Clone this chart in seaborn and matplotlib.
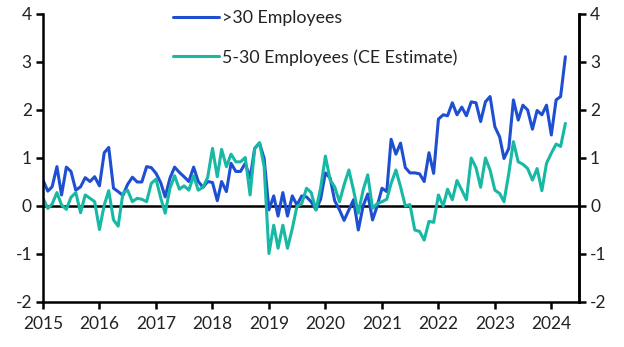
import numpy as np
import pandas as pd
import matplotlib
matplotlib.use("Agg")
import matplotlib.pyplot as plt
import seaborn as sns

months = pd.date_range("2015-01-01", periods=112, freq="MS")

large_firms = [
    0.54, 0.31, 0.40, 0.82, 0.23, 0.81, 0.72, 0.33, 0.40, 0.59, 0.51, 0.61,
    0.42, 1.11, 1.22, 0.37, 0.30, 0.22, 0.45, 0.60, 0.50, 0.50, 0.82, 0.80,
    0.68, 0.48, 0.19, 0.58, 0.81, 0.70, 0.61, 0.51, 0.81, 0.51, 0.39, 0.51,
    0.49, 0.11, 0.51, 0.30, 0.89, 0.72, 0.72, 0.89, 0.58, 1.20, 1.31, 0.99,
    -0.08, 0.21, -0.21, 0.28, -0.21, 0.21, 0.02, 0.21, 0.19, 0.09, -0.08, 0.14,
    0.69, 0.58, 0.11, -0.08, -0.30, -0.08, 0.13, -0.50, 0.00, 0.25, -0.29, 0.00,
    0.37, 0.30, 1.39, 1.08, 1.31, 0.80, 0.69, 0.69, 0.67, 0.51, 1.11, 0.68,
    1.81, 1.90, 1.88, 2.15, 1.90, 2.06, 1.88, 2.17, 2.15, 1.76, 2.17, 2.28,
    1.65, 1.44, 0.99, 1.20, 2.21, 1.79, 2.10, 2.00, 1.60, 1.99, 1.90, 2.10,
    1.48, 2.21, 2.28, 3.11,
]

small_firms = [
    0.16, -0.05, 0.04, 0.28, 0.02, -0.07, 0.18, 0.28, -0.14, 0.23, 0.16, 0.09,
    -0.49, 0.02, 0.32, -0.29, -0.42, 0.27, 0.33, 0.09, 0.16, 0.14, 0.09, 0.47,
    0.56, 0.16, -0.15, 0.37, 0.63, 0.35, 0.42, 0.33, 0.63, 0.33, 0.39, 0.60,
    1.20, 0.61, 1.18, 0.82, 1.08, 0.92, 0.92, 1.01, 0.23, 1.20, 1.32, 0.82,
    -0.99, -0.40, -0.88, -0.40, -0.88, -0.47, -0.01, 0.05, 0.37, 0.28, -0.08, 0.37,
    1.04, 0.54, 0.40, 0.09, 0.44, 0.75, 0.33, -0.15, 0.33, 0.65, -0.05, 0.05,
    0.09, 0.14, 0.47, 0.75, 0.40, 0.00, 0.03, -0.50, -0.53, -0.71, -0.32, -0.34,
    0.23, 0.00, 0.35, 0.13, 0.53, 0.33, 0.13, 1.00, 0.80, 0.39, 1.00, 0.75,
    0.33, 0.26, 0.09, 0.68, 1.34, 0.92, 0.87, 0.78, 0.54, 0.78, 0.32, 0.89,
    1.10, 1.29, 1.24, 1.72,
]

series_names = [">30 Employees", "5-30 Employees (CE Estimate)"]
y_ticks = [-2, -1, 0, 1, 2, 3, 4]
year_ticks = list(range(2015, 2025))

df = pd.DataFrame({
    "date": list(months) * 2,
    "value": large_firms + small_firms,
    "series": [series_names[0]] * len(large_firms) + [series_names[1]] * len(small_firms),
})

sns.set_style("white")
plt.rcParams["font.family"] = ["Lato", "DejaVu Sans"]
plt.rcParams["axes.unicode_minus"] = False

fig = plt.figure(figsize=(6.24, 3.47), dpi=100)
ax = fig.add_axes([43 / 624, 1 - 302 / 347, (579 - 43) / 624, (302 - 14) / 347])

palette = {series_names[0]: "#1F4FD1", series_names[1]: "#17B8A4"}
sns.lineplot(data=df, x="date", y="value", hue="series", palette=palette,
             linewidth=2.2, ax=ax, hue_order=series_names)

ax.axhline(0, color="black", linewidth=1.8, zorder=1)

ax.set_ylim(-2, 4)
ax.set_yticks(y_ticks)
ax.set_xlim(pd.Timestamp("2015-01-01"), pd.Timestamp("2024-06-28"))
ax.set_xticks([pd.Timestamp(f"{y}-01-01") for y in year_ticks])
ax.set_xticklabels([str(y) for y in year_ticks])
ax.set_xlabel("")
ax.set_ylabel("")

for side in ["left", "right", "bottom"]:
    ax.spines[side].set_visible(True)
    ax.spines[side].set_color("black")
    ax.spines[side].set_linewidth(1.8)
ax.spines["top"].set_visible(False)

ax.tick_params(axis="both", which="major", direction="out", length=5, width=1.8,
               color="black", labelsize=12.5, labelcolor="#222222", pad=3)
ax.tick_params(axis="x", pad=5, bottom=True)
ax.tick_params(axis="y", left=True)

ax2 = ax.twinx()
ax2.set_ylim(-2, 4)
ax2.set_yticks(y_ticks)
ax2.spines["top"].set_visible(False)
ax2.spines["left"].set_visible(False)
ax2.spines["bottom"].set_visible(False)
ax2.spines["right"].set_color("black")
ax2.spines["right"].set_linewidth(1.8)
ax2.tick_params(axis="y", direction="out", length=5, width=1.8, color="black",
                labelsize=12.5, labelcolor="#222222", pad=3, right=True)
ax2.grid(False)
ax.grid(False)

handles, labels = ax.get_legend_handles_labels()
ax.legend_.remove()
leg = fig.legend(handles, labels, loc="upper left", bbox_to_anchor=(173 / 624, 1 - 10 / 347),
                 frameon=False, fontsize=12.8, handlelength=2.6, handletextpad=0.15,
                 labelspacing=1.3, borderpad=0, borderaxespad=0)
for h in leg.get_lines():
    h.set_linewidth(2.2)
for t in leg.get_texts():
    t.set_color("#222222")

fig.savefig("out.png", dpi=100)
